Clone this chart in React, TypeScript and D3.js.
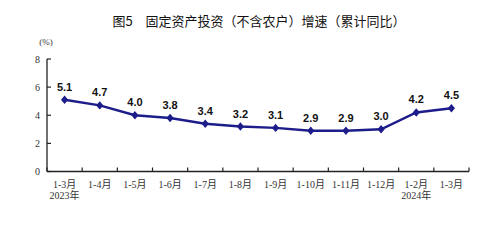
import React from "react";
import * as d3 from "d3";

const categories = ["1-3月", "1-4月", "1-5月", "1-6月", "1-7月", "1-8月", "1-9月", "1-10月", "1-11月", "1-12月", "1-2月", "1-3月"];
const yearLabels = ["2023年", "", "", "", "", "", "", "", "", "", "2024年", ""];
const values = [5.1, 4.7, 4.0, 3.8, 3.4, 3.2, 3.1, 2.9, 2.9, 3.0, 4.2, 4.5];
const yTicks = [0, 2, 4, 6, 8];
const title = "图5　固定资产投资（不含农户）增速（累计同比）";

export default function App() {
  const W = 484, H = 248;
  const left = 47, right = 469, top = 59, bottom = 171.5;
  const x = d3.scaleBand<number>().domain(d3.range(categories.length)).range([left, right]).padding(0);
  const y = d3.scaleLinear().domain([0, 8]).range([bottom, top]);
  const cx = (i: number) => (x(i) as number) + x.bandwidth() / 2;
  const line = d3.line<number>().x((_, i) => cx(i)).y((d) => y(d));
  const serif = "'Liberation Serif', 'DejaVu Serif', 'Noto Sans CJK SC', serif";
  const sans = "'Liberation Sans', Arial, 'Noto Sans CJK SC', sans-serif";
  const ticksX = d3.range(categories.length + 1).map((i) => left + i * x.bandwidth());
  return (
    <svg width={W} height={H} style={{ position: "absolute", left: 0, top: 0, background: "#fff" }}>
      <text x={259} y={26} textAnchor="middle" fontFamily="'Noto Sans CJK SC', sans-serif" fontSize={13} fill="#111">{title}</text>
      <text x={46} y={45} textAnchor="middle" fontFamily={serif} fontSize={9} fill="#333">(%)</text>
      {/* y axis */}
      <line x1={left} x2={left} y1={top} y2={bottom} stroke="#222" strokeWidth={1.3} />
      {yTicks.map((t) => (
        <g key={t}>
          <line x1={left} x2={left + 4} y1={y(t)} y2={y(t)} stroke="#222" strokeWidth={1.2} />
          <text x={left - 7} y={y(t) + 3.5} textAnchor="end" fontFamily={serif} fontSize={10} fill="#333">{t}</text>
        </g>
      ))}
      {/* x axis */}
      <line x1={left} x2={right} y1={bottom} y2={bottom} stroke="#222" strokeWidth={1.3} />
      {ticksX.map((tx, i) => (
        <line key={i} x1={tx} x2={tx} y1={bottom} y2={bottom - 4} stroke="#222" strokeWidth={1.2} />
      ))}
      {categories.map((c, i) => (
        <g key={i}>
          <text x={cx(i)} y={188} textAnchor="middle" fontFamily={serif} fontSize={10} fill="#333">{c}</text>
          {yearLabels[i] && (
            <text x={cx(i)} y={199} textAnchor="middle" fontFamily={serif} fontSize={10} fill="#333">{yearLabels[i]}</text>
          )}
        </g>
      ))}
      <path d={line(values) || ""} fill="none" stroke="#1c1c8a" strokeWidth={2.4} />
      {values.map((v, i) => (
        <g key={i}>
          <path d={`M${cx(i)},${y(v) - 4.2}L${cx(i) + 3.6},${y(v)}L${cx(i)},${y(v) + 4.2}L${cx(i) - 3.6},${y(v)}Z`} fill="#1c1c8a" />
          <text x={cx(i)} y={y(v) - 9} textAnchor="middle" fontFamily={sans} fontWeight="bold" fontSize={11} fill="#111">{v.toFixed(1)}</text>
        </g>
      ))}
    </svg>
  );
}
